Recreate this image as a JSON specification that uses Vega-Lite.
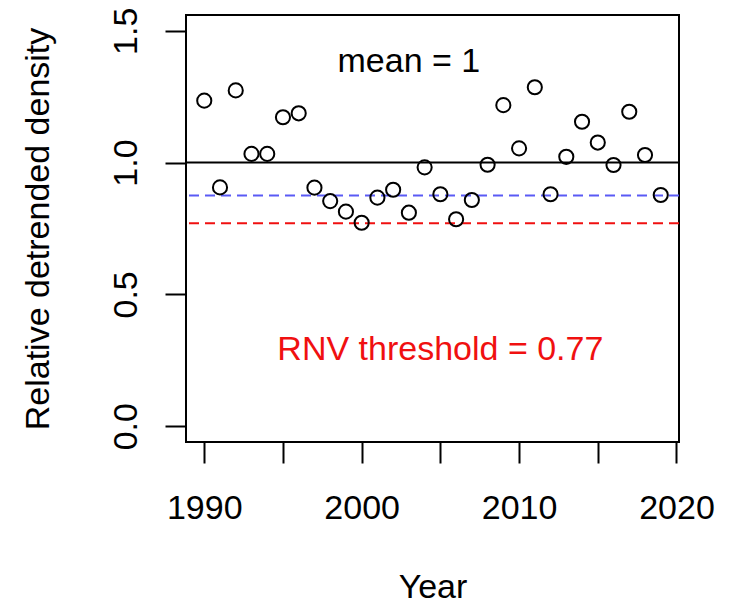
{
  "$schema": "https://vega.github.io/schema/vega-lite/v6.json",
  "width": 493,
  "height": 427,
  "autosize": "none",
  "padding": {"left": 186, "top": 15, "right": 62, "bottom": 163},
  "background": "white",
  "config": {
    "font": "Liberation Sans",
    "view": {"stroke": "black", "strokeWidth": 2},
    "axis": {
      "grid": false,
      "domain": false,
      "tickColor": "black",
      "tickWidth": 2,
      "tickSize": 21,
      "labelColor": "black",
      "labelFontSize": 34,
      "labelFont": "Liberation Sans",
      "titleFont": "Liberation Sans",
      "titleFontSize": 34,
      "titleFontWeight": "normal",
      "titleColor": "black",
      "labelOverlap": false,
      "labelFlush": false
    }
  },
  "datasets": {
    "density": [
      {"year": 1990, "density": 1.235},
      {"year": 1991, "density": 0.906},
      {"year": 1992, "density": 1.274},
      {"year": 1993, "density": 1.033},
      {"year": 1994, "density": 1.033},
      {"year": 1995, "density": 1.172},
      {"year": 1996, "density": 1.187},
      {"year": 1997, "density": 0.905},
      {"year": 1998, "density": 0.854},
      {"year": 1999, "density": 0.814},
      {"year": 2000, "density": 0.772},
      {"year": 2001, "density": 0.867},
      {"year": 2002, "density": 0.897},
      {"year": 2003, "density": 0.81},
      {"year": 2004, "density": 0.982},
      {"year": 2005, "density": 0.88},
      {"year": 2006, "density": 0.785},
      {"year": 2007, "density": 0.858},
      {"year": 2008, "density": 0.992},
      {"year": 2009, "density": 1.218},
      {"year": 2010, "density": 1.054},
      {"year": 2011, "density": 1.286},
      {"year": 2012, "density": 0.88},
      {"year": 2013, "density": 1.022},
      {"year": 2014, "density": 1.155},
      {"year": 2015, "density": 1.076},
      {"year": 2016, "density": 0.991},
      {"year": 2017, "density": 1.193},
      {"year": 2018, "density": 1.029},
      {"year": 2019, "density": 0.877}
    ],
    "notes": [
      {"year": 2003, "y": 1.38, "text": "mean = 1", "tone": "black"},
      {"year": 2005, "y": 0.29, "text": "RNV threshold = 0.77", "tone": "red"}
    ]
  },
  "layer": [
    {
      "data": {"values": [{"level": 1}]},
      "mark": {"type": "rule", "color": "black", "strokeWidth": 2},
      "encoding": {"y": {"field": "level", "type": "quantitative"}}
    },
    {
      "data": {"values": [{"level": 0.875}]},
      "mark": {"type": "rule", "color": "#5a5af5", "strokeWidth": 2, "strokeDash": [10, 6]},
      "encoding": {"y": {"field": "level", "type": "quantitative"}}
    },
    {
      "data": {"values": [{"level": 0.77}]},
      "mark": {"type": "rule", "color": "#f01010", "strokeWidth": 2, "strokeDash": [10, 6]},
      "encoding": {"y": {"field": "level", "type": "quantitative"}}
    },
    {
      "data": {"name": "density"},
      "mark": {"type": "point", "shape": "circle", "filled": false, "stroke": "black", "strokeWidth": 2, "size": 200, "opacity": 1},
      "encoding": {
        "x": {
          "field": "year",
          "type": "quantitative",
          "scale": {"domain": [1988.84, 2020.16], "nice": false, "zero": false},
          "axis": {
            "title": "Year",
            "values": [1990, 1995, 2000, 2005, 2010, 2015, 2020],
            "format": "d",
            "labelExpr": "datum.value % 10 === 0 ? datum.label : ''",
            "labelPadding": 28,
            "titlePadding": 45
          }
        },
        "y": {
          "field": "density",
          "type": "quantitative",
          "scale": {"domain": [-0.06, 1.56], "nice": false, "zero": false},
          "axis": {
            "title": "Relative detrended density",
            "values": [0, 0.5, 1, 1.5],
            "format": ".1f",
            "labelAngle": -90,
            "labelAlign": "center",
            "labelBaseline": "alphabetic",
            "labelPadding": 29,
            "titlePadding": 54
          }
        }
      }
    },
    {
      "data": {"name": "notes"},
      "mark": {"type": "text", "fontSize": 34, "align": "center", "baseline": "middle", "font": "Liberation Sans"},
      "encoding": {
        "x": {"field": "year", "type": "quantitative"},
        "y": {"field": "y", "type": "quantitative"},
        "text": {"field": "text"},
        "color": {"field": "tone", "type": "nominal", "scale": {"domain": ["black", "red"], "range": ["black", "#f01010"]}, "legend": null}
      }
    }
  ]
}
